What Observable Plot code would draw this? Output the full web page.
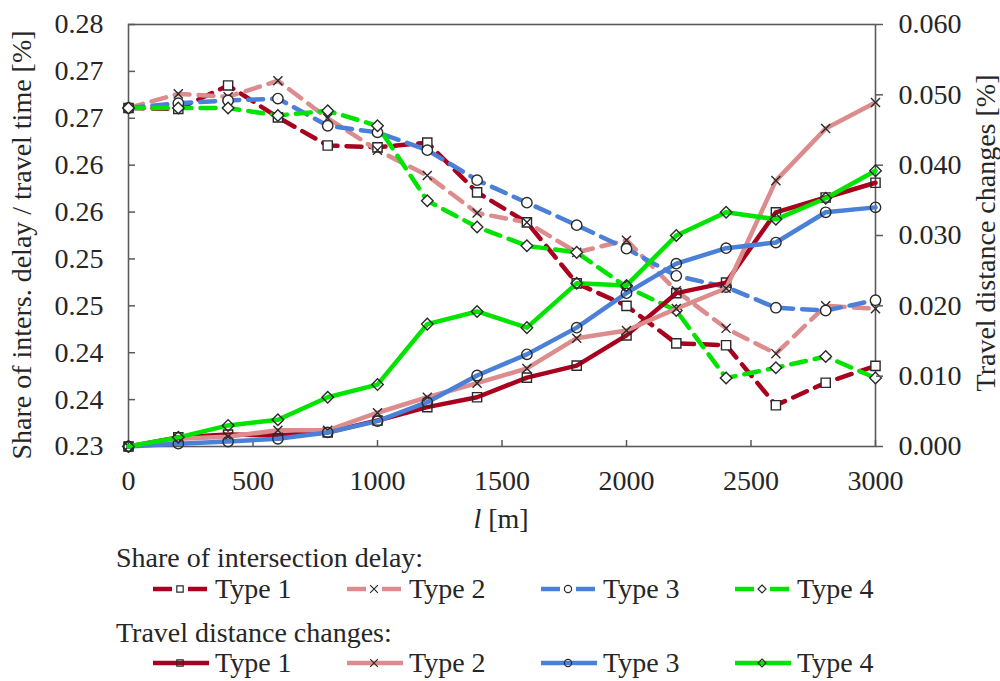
<!DOCTYPE html>
<html><head><meta charset="utf-8">
<script src="https://cdn.jsdelivr.net/npm/d3@7"></script>
<script src="https://cdn.jsdelivr.net/npm/@observablehq/plot@0.6"></script>
<style>
body{margin:0;background:#fff;}
#wrap{position:relative;width:1000px;height:681px;}
#wrap svg{position:absolute;left:0;}
#wrap svg, #wrap svg text{font-family:"Liberation Serif","Times New Roman",serif !important;}
</style></head><body><div id="wrap"></div>
<script>
// ---- data ----
const distance = [0,200,400,600,800,1000,1200,1400,1600,1800,2000,2200,2400,2600,2800,3000];
const typeNames = ["Type 1","Type 2","Type 3","Type 4"];

// Share of intersection delay (left axis)
const delayType1 = [0.2661,0.2660,0.2685,0.2651,0.2621,0.2619,0.2624,0.2571,0.2539,0.2474,0.2450,0.2410,0.2408,0.2344,0.2368,0.2386];
const delayType2 = [0.2661,0.2676,0.2673,0.2690,0.2650,0.2616,0.2589,0.2549,0.2539,0.2507,0.2520,0.2466,0.2426,0.2399,0.2450,0.2447];
const delayType3 = [0.2661,0.2666,0.2669,0.2671,0.2642,0.2635,0.2616,0.2584,0.2560,0.2536,0.2511,0.2482,0.2470,0.2448,0.2445,0.2456];
const delayType4 = [0.2661,0.2661,0.2661,0.2653,0.2658,0.2642,0.2562,0.2534,0.2514,0.2507,0.2470,0.2445,0.2373,0.2384,0.2396,0.2373];

// Travel distance changes (right axis)
const travelType1 = [0,0.0013,0.0017,0.0016,0.0020,0.0037,0.0056,0.0070,0.0098,0.0115,0.0158,0.0218,0.0233,0.0333,0.0354,0.0375];
const travelType2 = [0,0.0011,0.0014,0.0023,0.0023,0.0048,0.0070,0.0090,0.0111,0.0154,0.0165,0.0196,0.0225,0.0378,0.0452,0.0489];
const travelType3 = [0,0.0004,0.0007,0.0011,0.0020,0.0036,0.0063,0.0101,0.0131,0.0169,0.0218,0.0260,0.0282,0.0290,0.0333,0.0340];
const travelType4 = [0,0.0013,0.0030,0.0038,0.0070,0.0088,0.0174,0.0192,0.0169,0.0232,0.0229,0.0300,0.0333,0.0323,0.0353,0.0392];

// tick values and labels
const xTicks = [0,500,1000,1500,2000,2500,3000];
const leftTicks = [0.23,0.235,0.24,0.245,0.25,0.255,0.26,0.265,0.27,0.275];
const leftTickLabels = ["0.23","0.24","0.24","0.25","0.25","0.26","0.26","0.27","0.27","0.28"];
const rightTicks = [0,0.01,0.02,0.03,0.04,0.05,0.06];
const rightTickLabels = ["0.000","0.010","0.020","0.030","0.040","0.050","0.060"];

const leftTitle = "Share of inters. delay / travel time [%]";
const rightTitle = "Travel distance changes [%]";
const legendTitle1 = "Share of intersection delay:";
const legendTitle2 = "Travel distance changes:";

// ---- styling ----
const colors = ["#A8001E","#DC8C8C","#4A80D8","#00E400"];
const symbols = ["square","times","circle","diamond2"];
const FONT = "'Liberation Serif','Times New Roman',serif";
const FS = "28px";
const AXIS = "#5a5a5a";
const TEXT = "#262626";

const delaySeries = [delayType1,delayType2,delayType3,delayType4];
const travelSeries = [travelType1,travelType2,travelType3,travelType4];
const rows = (vals, name) => distance.map((d,i)=>({distance:d, value:vals[i], series:name}));

const W = 1000, H = 540;
const base = {
  width: W, height: H,
  marginLeft: 128, marginRight: 125, marginTop: 24, marginBottom: H-446,
  style: `font-family:${FONT};font-size:${FS};background:transparent;color:${TEXT};overflow:visible;`
};

const leftMarks = [];
delaySeries.forEach((vals, k) => {
  const data = rows(vals, typeNames[k]);
  leftMarks.push(Plot.line(data, {x:"distance", y:"value", stroke: colors[k], strokeWidth: 4.5, strokeDasharray: "15,9"}));
});
delaySeries.forEach((vals, k) => {
  const data = rows(vals, typeNames[k]);
  leftMarks.push(Plot.dot(data, {x:"distance", y:"value", symbol: symbols[k], r: k===1?4.2:5.2, fill: "white", stroke: "#2a2a2a", strokeWidth: 1.4}));
});

const chartLeft = Plot.plot({
  ...base,
  x: {domain:[0,3000], label:null},
  y: {domain:[0.23,0.275], label:null},
  marks: [
    Plot.frame({stroke: AXIS, strokeWidth: 1.6}),
    Plot.axisY(leftTicks, {anchor:"left", tickSize:-7, tickPadding:32, stroke: AXIS, strokeWidth:1.5, fill: TEXT,
      tickFormat: d => leftTickLabels[leftTicks.findIndex(t => Math.abs(t-d) < 1e-9)], label:null}),
    Plot.axisX(xTicks, {anchor:"bottom", tickSize:-6, tickPadding:30, stroke: AXIS, strokeWidth:1.5, fill: TEXT,
      tickFormat: d => String(d), label:null}),
    ...leftMarks
  ]
});

const rightMarks = [];
travelSeries.forEach((vals, k) => {
  const data = rows(vals, typeNames[k]);
  rightMarks.push(Plot.line(data, {x:"distance", y:"value", stroke: colors[k], strokeWidth: 4.5}));
  rightMarks.push(Plot.dot(data, {x:"distance", y:"value", symbol: symbols[k], r: k===1?4.2:5.2, fill: "none", stroke: "#2a2a2a", strokeWidth: 1.4}));
});

const chartRight = Plot.plot({
  ...base,
  x: {domain:[0,3000], axis:null, label:null},
  y: {domain:[0,0.06], label:null},
  marks: [
    Plot.axisY(rightTicks, {anchor:"right", tickSize:7, tickPadding:16, stroke: AXIS, strokeWidth:1.5, fill: TEXT,
      tickFormat: d => rightTickLabels[rightTicks.findIndex(t => Math.abs(t-d) < 1e-9)], label:null}),
    ...rightMarks
  ]
});

const wrap = document.getElementById("wrap");
chartLeft.style.top = "0px";
chartRight.style.top = "0px";
wrap.appendChild(chartLeft);
wrap.appendChild(chartRight);

// axis titles
const sl = d3.select(chartLeft);
sl.append("text")
  .attr("transform", "translate(21,245) rotate(-90)")
  .attr("text-anchor","middle").attr("dominant-baseline","central")
  .attr("fill",TEXT).style("font-size",FS).text(leftTitle);
const xl = sl.append("text").attr("x", 501).attr("y", 528).attr("text-anchor","middle")
  .attr("fill",TEXT).style("font-size",FS);
xl.append("tspan").attr("font-style","italic").text("l");
xl.append("tspan").text(" [m]");

d3.select(chartRight).append("text")
  .attr("transform", "translate(985,233) rotate(-90)")
  .attr("text-anchor","middle").attr("dominant-baseline","central")
  .attr("fill",TEXT).style("font-size",FS).text(rightTitle);

// ---- legend (below the chart) ----
const leg = d3.select(wrap).append("svg")
  .attr("width", W).attr("height", 681-H)
  .style("top", H+"px")
  .style("font-size",FS);

const itemX = [153, 347, 541, 735];
const plotSym = {square: d3.symbolSquare, times: d3.symbolTimes, circle: d3.symbolCircle, diamond2: d3.symbolDiamond2};

function legendRow(y, dashed) {
  itemX.forEach((x0, k) => {
    const g = leg.append("g");
    const cx = x0 + 27;
    if (dashed) {
      g.append("line").attr("x1", x0).attr("x2", cx-8).attr("y1", y).attr("y2", y)
        .attr("stroke", colors[k]).attr("stroke-width", 4.5);
      g.append("line").attr("x1", cx+8).attr("x2", x0+54).attr("y1", y).attr("y2", y)
        .attr("stroke", colors[k]).attr("stroke-width", 4.5);
    } else {
      g.append("line").attr("x1", x0).attr("x2", x0+56).attr("y1", y).attr("y2", y)
        .attr("stroke", colors[k]).attr("stroke-width", 4.5);
    }
    const rr = 3.6;
    g.append("path").attr("transform", `translate(${cx},${y})`)
      .attr("d", d3.symbol(plotSym[symbols[k]], Math.PI*rr*rr)())
      .attr("fill", dashed ? "white" : "none").attr("stroke", "#2a2a2a").attr("stroke-width", 1.2);
    g.append("text").attr("x", x0+62).attr("y", y+9).attr("fill",TEXT).text(typeNames[k]);
  });
}
leg.append("text").attr("x", 116).attr("y", 27).attr("fill",TEXT).text(legendTitle1);
legendRow(49, true);
leg.append("text").attr("x", 116).attr("y", 102).attr("fill",TEXT).text(legendTitle2);
legendRow(123, false);
</script>
</body></html>
